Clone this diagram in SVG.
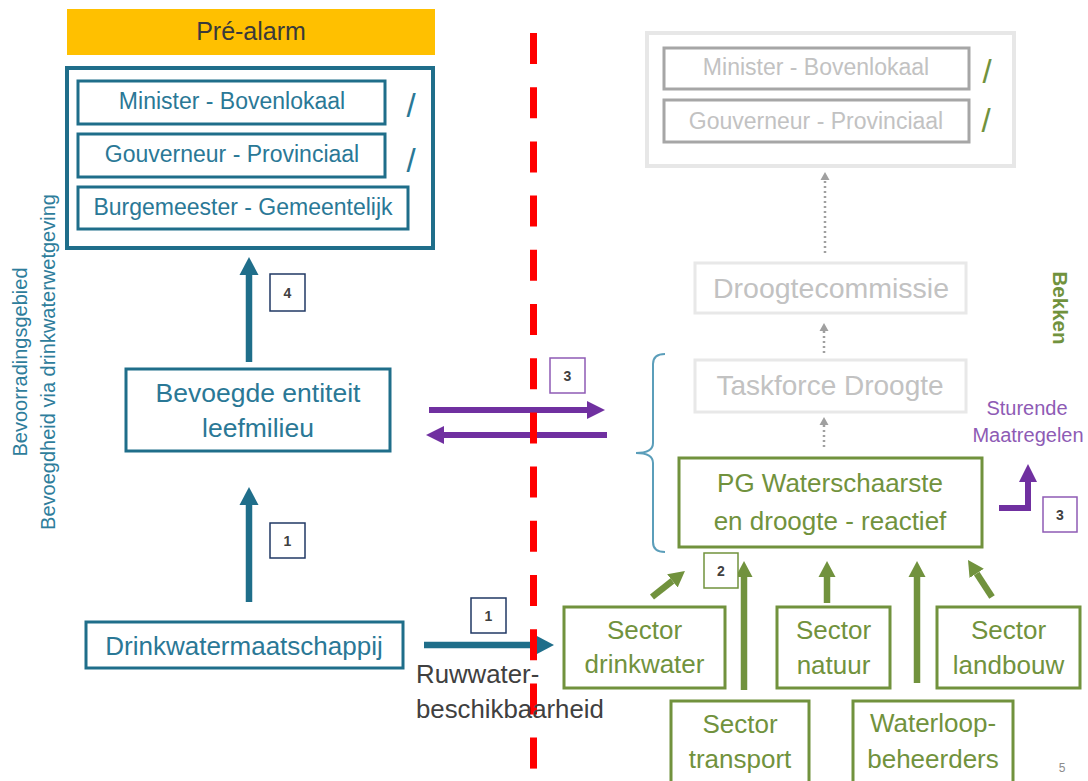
<svg xmlns="http://www.w3.org/2000/svg" width="1088" height="781" viewBox="0 0 1088 781">
  <style>
    text { font-family: "Liberation Sans", Arial, sans-serif; }
    .teal-box { fill: #ffffff; stroke: #1F6E8A; stroke-width: 3; }
    .teal-txt { fill: #2A7896; text-anchor: middle; }
    .green-box { fill: #ffffff; stroke: #71923D; stroke-width: 3; }
    .green-txt { fill: #71923D; text-anchor: middle; font-size: 26px; }
    .grey-inner { fill: #ffffff; stroke: #A6A6A6; stroke-width: 3; }
    .grey-light { fill: #ffffff; stroke: #E8E8E8; stroke-width: 3; }
    .grey-txt { fill: #C2C2C2; text-anchor: middle; }
    .slash { font-size: 33px; text-anchor: middle; }
    .tag { fill: #ffffff; stroke-width: 1.5; }
    .tag-txt { fill: #404040; font-size: 14px; font-weight: bold; text-anchor: middle; }
    .teal-arrow { stroke: #1F6E8A; stroke-width: 6.5; fill: none; marker-end: url(#head-teal); }
    .purple-arrow { stroke: #7030A0; stroke-width: 6; fill: none; marker-end: url(#head-purple); }
    .green-arrow { stroke: #71923D; stroke-width: 6.5; fill: none; marker-end: url(#head-green); }
    .dot-arrow { stroke: #A0A0A0; stroke-width: 2.5; stroke-dasharray: 2 3; fill: none; marker-end: url(#head-grey); }
  </style>
  <defs>
    <marker id="head-teal" markerUnits="userSpaceOnUse" viewBox="0 -10 18 20" markerWidth="18" markerHeight="20" refX="0" refY="0" orient="auto">
      <path d="M0,-9.5 L18,0 L0,9.5 Z" fill="#1F6E8A"/>
    </marker>
    <marker id="head-purple" markerUnits="userSpaceOnUse" viewBox="0 -10 18 20" markerWidth="18" markerHeight="20" refX="0" refY="0" orient="auto">
      <path d="M0,-9 L18,0 L0,9 Z" fill="#7030A0"/>
    </marker>
    <marker id="head-green" markerUnits="userSpaceOnUse" viewBox="0 -10 16 20" markerWidth="16" markerHeight="20" refX="0" refY="0" orient="auto">
      <path d="M0,-8.5 L16,0 L0,8.5 Z" fill="#71923D"/>
    </marker>
    <marker id="head-grey" markerUnits="userSpaceOnUse" viewBox="0 -5 8 10" markerWidth="8" markerHeight="10" refX="0" refY="0" orient="auto">
      <path d="M0,-4.5 L8,0 L0,4.5 Z" fill="#A0A0A0"/>
    </marker>
  </defs>

  <rect width="1088" height="781" fill="#ffffff"/>

  <!-- phase banner -->
  <g id="pre-alarm">
    <rect x="67" y="9" width="368" height="46" fill="#FFC000"/>
    <text x="251" y="40" font-size="25" fill="#3A3A3A" text-anchor="middle">Pré-alarm</text>
  </g>

  <!-- side captions -->
  <g id="side-captions" fill="#2E7D9B" font-size="20">
    <text transform="translate(27,362) rotate(-90)" text-anchor="middle">Bevoorradingsgebied</text>
    <text transform="translate(55,362) rotate(-90)" text-anchor="middle">Bevoegdheid via drinkwaterwetgeving</text>
  </g>

  <!-- authorities, supply area -->
  <g id="authorities-left">
    <rect x="67" y="68" width="366" height="180" fill="#ffffff" stroke="#1F6E8A" stroke-width="4"/>
    <g id="minister-left">
      <rect class="teal-box" x="78" y="81" width="307" height="43"/>
      <text class="teal-txt" x="232" y="109" font-size="23">Minister - Bovenlokaal</text>
    </g>
    <g id="gouverneur-left">
      <rect class="teal-box" x="78" y="134" width="307" height="43"/>
      <text class="teal-txt" x="232" y="162" font-size="23">Gouverneur - Provinciaal</text>
    </g>
    <g id="burgemeester-left">
      <rect class="teal-box" x="78" y="187" width="330" height="42"/>
      <text class="teal-txt" x="243" y="215" font-size="23">Burgemeester - Gemeentelijk</text>
    </g>
    <text class="slash" x="411" y="117" fill="#2A7896">/</text>
    <text class="slash" x="411" y="172" fill="#2A7896">/</text>
  </g>

  <g id="bevoegde-entiteit">
    <rect class="teal-box" x="126" y="369" width="264" height="82"/>
    <text class="teal-txt" x="258" y="402" font-size="26.5">Bevoegde entiteit</text>
    <text class="teal-txt" x="258" y="437" font-size="26.5">leefmilieu</text>
  </g>

  <g id="drinkwatermaatschappij">
    <rect class="teal-box" x="86" y="622" width="317" height="46"/>
    <text class="teal-txt" x="244" y="655" font-size="26">Drinkwatermaatschappij</text>
  </g>

  <!-- authorities, river basin (faded) -->
  <g id="authorities-right">
    <rect x="647" y="33" width="367" height="133" fill="#ffffff" stroke="#E7E7E7" stroke-width="4"/>
    <g id="minister-right">
      <rect class="grey-inner" x="664" y="48" width="305" height="41"/>
      <text class="grey-txt" x="816" y="75" font-size="23">Minister - Bovenlokaal</text>
    </g>
    <g id="gouverneur-right">
      <rect class="grey-inner" x="664" y="100" width="305" height="42"/>
      <text class="grey-txt" x="816" y="129" font-size="23">Gouverneur - Provinciaal</text>
    </g>
    <text class="slash" x="987" y="83" fill="#71923D">/</text>
    <text class="slash" x="986" y="132" fill="#71923D">/</text>
  </g>

  <g id="droogtecommissie">
    <rect class="grey-light" x="695" y="263" width="271" height="50"/>
    <text class="grey-txt" x="831" y="298" font-size="28.5">Droogtecommissie</text>
  </g>

  <g id="taskforce-droogte">
    <rect class="grey-light" x="695" y="360" width="271" height="52"/>
    <text class="grey-txt" x="830" y="395" font-size="28">Taskforce Droogte</text>
  </g>

  <g id="bekken-label">
    <text transform="translate(1053,308) rotate(90)" font-size="20.5" font-weight="bold" fill="#71923D" text-anchor="middle">Bekken</text>
  </g>

  <g id="sturende-maatregelen" fill="#8E5BB5" font-size="20" text-anchor="middle">
    <text x="1027" y="415">Sturende</text>
    <text x="1028" y="442">Maatregelen</text>
  </g>

  <g id="pg-waterschaarste">
    <rect class="green-box" x="679" y="458" width="303" height="89"/>
    <text class="green-txt" x="830" y="492" font-size="28.5">PG Waterschaarste</text>
    <text class="green-txt" x="830" y="530" font-size="28.5">en droogte - reactief</text>
  </g>

  <!-- sectors -->
  <g id="sector-drinkwater">
    <rect class="green-box" x="564" y="607" width="161" height="81"/>
    <text class="green-txt" x="644.5" y="639">Sector</text>
    <text class="green-txt" x="644.5" y="673">drinkwater</text>
  </g>
  <g id="sector-natuur">
    <rect class="green-box" x="777" y="607" width="113" height="81"/>
    <text class="green-txt" x="833.5" y="639">Sector</text>
    <text class="green-txt" x="833.5" y="674">natuur</text>
  </g>
  <g id="sector-landbouw">
    <rect class="green-box" x="937" y="607" width="143" height="81"/>
    <text class="green-txt" x="1008.5" y="639">Sector</text>
    <text class="green-txt" x="1008.5" y="674">landbouw</text>
  </g>
  <g id="sector-transport">
    <rect class="green-box" x="671" y="701" width="138" height="95"/>
    <text class="green-txt" x="740" y="733">Sector</text>
    <text class="green-txt" x="740" y="768">transport</text>
  </g>
  <g id="waterloopbeheerders">
    <rect class="green-box" x="853" y="701" width="160" height="95"/>
    <text class="green-txt" x="933" y="732">Waterloop-</text>
    <text class="green-txt" x="933" y="768">beheerders</text>
  </g>

  <!-- connectors -->
  <g id="connectors">
    <line class="teal-arrow" x1="249" y1="362" x2="249" y2="275"/>
    <line class="teal-arrow" x1="249" y1="602" x2="249" y2="505"/>
    <line class="teal-arrow" x1="424" y1="645" x2="536" y2="645"/>

    <line class="purple-arrow" x1="429" y1="410" x2="587" y2="410"/>
    <line class="purple-arrow" x1="607" y1="435" x2="444" y2="435"/>
    <path class="purple-arrow" stroke-width="5" d="M999,508 H1028 V482"/>

    <line class="dot-arrow" x1="825" y1="253" x2="825" y2="180"/>
    <line class="dot-arrow" x1="824" y1="353" x2="824" y2="331"/>
    <line class="dot-arrow" x1="824" y1="447" x2="824" y2="425"/>

    <line class="green-arrow" x1="652" y1="597" x2="672.4" y2="580.9"/>
    <line class="green-arrow" x1="744" y1="690" x2="744" y2="577"/>
    <line class="green-arrow" x1="827" y1="603" x2="827" y2="577"/>
    <line class="green-arrow" x1="917" y1="683" x2="917" y2="577"/>
    <line class="green-arrow" x1="992" y1="597" x2="976.7" y2="573.4"/>

    <path d="M665,354 Q653,354 653,364 L653,443 Q653,453 636,453 Q653,453 653,463 L653,542 Q653,552 665,552" fill="none" stroke="#5B9EBA" stroke-width="2"/>
  </g>

  <!-- boundary between supply area and river basin -->
  <g id="boundary">
    <line x1="533.5" y1="33" x2="533.5" y2="769" stroke="#FF0000" stroke-width="7" stroke-dasharray="31 23.2"/>
  </g>

  <!-- step numbers -->
  <g id="step-tags">
    <rect class="tag" x="270" y="274" width="35" height="37" stroke="#203864"/>
    <text class="tag-txt" x="287.5" y="297.5">4</text>
    <rect class="tag" x="270" y="523" width="35" height="35" stroke="#203864"/>
    <text class="tag-txt" x="287.5" y="545.5">1</text>
    <rect class="tag" x="471" y="598" width="35" height="35" stroke="#203864"/>
    <text class="tag-txt" x="488.5" y="620.5">1</text>
    <rect class="tag" x="550" y="358" width="35" height="35" stroke="#8E5BB5"/>
    <text class="tag-txt" x="567.5" y="380.5">3</text>
    <rect class="tag" x="1043" y="497" width="34" height="35" stroke="#8E5BB5"/>
    <text class="tag-txt" x="1060" y="519.5">3</text>
    <rect class="tag" x="704" y="553" width="34" height="35" stroke="#71923D"/>
    <text class="tag-txt" x="721" y="575.5">2</text>
  </g>

  <g id="ruwwater-label" fill="#404040" font-size="25.8">
    <text x="416" y="683">Ruwwater-</text>
    <text x="416" y="718">beschikbaarheid</text>
  </g>

  <text x="1062" y="772" font-size="12" fill="#8C8C8C" text-anchor="middle">5</text>
</svg>
